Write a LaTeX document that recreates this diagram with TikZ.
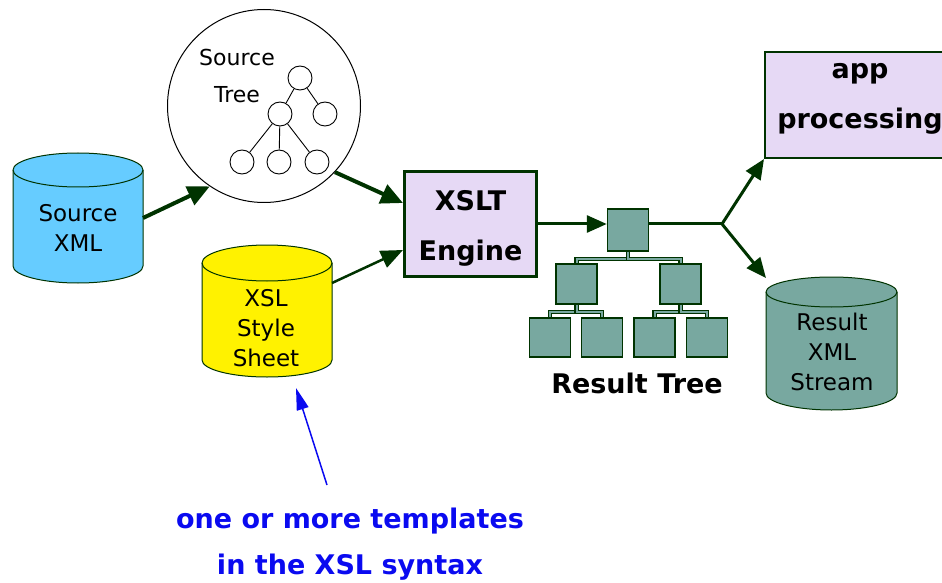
\documentclass[tikz,border=0pt]{standalone}
\usepackage{fontspec}
\setmainfont{DejaVu Sans}
\usetikzlibrary{arrows.meta,calc,backgrounds}
\definecolor{darkg}{HTML}{003300}
\definecolor{srcblue}{HTML}{66CCFF}
\definecolor{lav}{HTML}{E6D9F5}
\definecolor{resfill}{HTML}{78A8A0}
\definecolor{bluetxt}{HTML}{0A0AF0}
\begin{document}
\begin{tikzpicture}[x=1pt,y=1pt,
  reg/.style={font=\fontsize{23}{30}\selectfont, align=center, inner sep=0pt},
  bld/.style={font=\bfseries\fontsize{27}{50}\selectfont, align=center, inner sep=0pt},
  cylbody/.style={draw=darkg, line width=1pt},
  area/.style={inner sep=0pt, outer sep=0pt},
  biglink/.style={draw=darkg, line width=4pt, -{Triangle[length=22pt,width=20pt]}},
  midlink/.style={draw=darkg, line width=3pt, -{Triangle[length=20pt,width=17pt]}},
  thinlink/.style={draw=darkg, line width=2.5pt, -{Triangle[length=22pt,width=18pt]}},
  bluelink/.style={draw=bluetxt, line width=1.5pt, -{Triangle[length=22pt,width=12pt]}},
  procbox/.style={draw=darkg, fill=lav, inner sep=0pt},
  rsq/.style={draw=darkg, fill=resfill, line width=1.5pt, minimum width=41, minimum height=40, inner sep=0pt},
  tconn/.style={draw=darkg, line width=1.2pt, double=resfill, double distance=2pt},
  tn/.style={circle, draw, line width=0.9pt, minimum size=24, inner sep=0pt}
]
\useasboundingbox (0,0) rectangle (942,582);
\clip (0,0) rectangle (942,582);

% ---------- Source XML cylinder ----------
\path[cylbody, fill=srcblue] (13,412) -- (13,316)
  arc[start angle=180,end angle=360,x radius=65,y radius=17] -- (143,412)
  arc[start angle=0,end angle=180,x radius=65,y radius=17] -- cycle;
\draw[cylbody] (13,412) arc[start angle=180,end angle=360,x radius=65,y radius=17];
\node[area, minimum width=130, minimum height=130] (srcxml) at (78,364) {};
\node[reg] (srcxmltxt) at (78,354) {Source\\XML};

% ---------- XSL Style Sheet cylinder ----------
\path[cylbody, fill=yellow] (202,319) -- (202,222)
  arc[start angle=180,end angle=360,x radius=65,y radius=17] -- (332,319)
  arc[start angle=0,end angle=180,x radius=65,y radius=18] -- cycle;
\draw[cylbody] (202,319) arc[start angle=180,end angle=360,x radius=65,y radius=18];
\node[area, minimum width=130, minimum height=132] (xsl) at (267,271) {};
\node[reg] (xsltxt) at (266,254) {XSL\\Style\\Sheet};

% ---------- Result XML Stream cylinder ----------
\path[cylbody, fill=resfill] (766,290) -- (766,189)
  arc[start angle=180,end angle=360,x radius=65.5,y radius=17] -- (897,290)
  arc[start angle=0,end angle=180,x radius=65.5,y radius=15] -- cycle;
\draw[cylbody] (766,290) arc[start angle=180,end angle=360,x radius=65.5,y radius=15];
\node[area, minimum width=131, minimum height=132] (resxml) at (831.5,238) {};
\node[reg] (resxmltxt) at (832,230) {Result\\XML\\Stream};

% ---------- Source Tree ----------
\node[circle, draw, line width=1pt, fill=white, minimum size=193, inner sep=0pt] (tree) at (264,476) {};
\node[font=\fontsize{22}{37}\selectfont, align=center, inner sep=0pt] (treetxt) at (237,506.5) {Source\\Tree};
\node[tn] (t) at (300,504) {};
\node[tn] (a) at (280,468) {};
\node[tn] (b) at (325,468) {};
\node[tn] (c) at (242,420) {};
\node[tn] (d) at (279,420) {};
\node[tn] (e) at (317,420) {};
\draw[line width=0.9pt] (t) -- (a);
\draw[line width=0.9pt] (t) -- (b);
\draw[line width=0.9pt] (a) -- (c);
\draw[line width=0.9pt] (a) -- (d);
\draw[line width=0.9pt] (a) -- (e);

% ---------- XSLT Engine ----------
\node[procbox, line width=3pt, minimum width=132, minimum height=105] (engine) at (470.5,358) {};
\node[bld] (enginetxt) at (470.5,354) {XSLT\\Engine};

% ---------- app processing ----------
\node[procbox, line width=2pt, minimum width=190, minimum height=106] (app) at (860,477) {};
\node[bld] (apptxt) at (860,483) {app\\processing};

% ---------- Result tree ----------
\node[rsq, minimum height=42] (root) at (628,352) {};
\node[rsq] (l2a) at (576.5,298) {};
\node[rsq] (l2b) at (680.5,298) {};
\node[rsq, minimum height=39] (l3a) at (550,244.5) {};
\node[rsq, minimum height=39] (l3b) at (602,244.5) {};
\node[rsq, minimum height=39] (l3c) at (654.5,244.5) {};
\node[rsq, minimum height=39] (l3d) at (707,244.5) {};
\begin{pgfonlayer}{background}
\draw[tconn] (root.south) -- ++(0,-7) -| (l2a.north);
\draw[tconn] (root.south) -- ++(0,-7) -| (l2b.north);
\draw[tconn] (l2a.south) -- ++(0,-7) -| (l3a.north);
\draw[tconn] (l2a.south) -- ++(0,-7) -| (l3b.north);
\draw[tconn] (l2b.south) -- ++(0,-7) -| (l3c.north);
\draw[tconn] (l2b.south) -- ++(0,-7) -| (l3d.north);
\end{pgfonlayer}
\node[bld] (restreetxt) at (637,199) {Result Tree};

% ---------- connectors ----------
\draw[biglink] (srcxml.east) -- (tree.236);
\draw[biglink] (tree.317) -- ([yshift=21pt]engine.west);
\draw[thinlink] ([yshift=28pt]xsl.east) -- ([yshift=-26pt]engine.west);
\draw[midlink] (engine.east) -- (engine.east -| root.west);
\coordinate (branch) at (722,358);
\draw[draw=darkg, line width=3pt] (root.east |- branch) -- (branch);
\draw[midlink] (branch) -- (app.south west);
\draw[midlink] (branch) -- (resxml.north west);

% ---------- blue note ----------
\node[bld, text=bluetxt, font=\bfseries\fontsize{27}{46}\selectfont] (note) at (350,38) {one or more templates\\in the XSL syntax};
\coordinate (notetip) at (327,97);
\draw[bluelink] (notetip) -- ([xshift=29pt,yshift=-11pt]xsl.south);
\end{tikzpicture}
\end{document}
